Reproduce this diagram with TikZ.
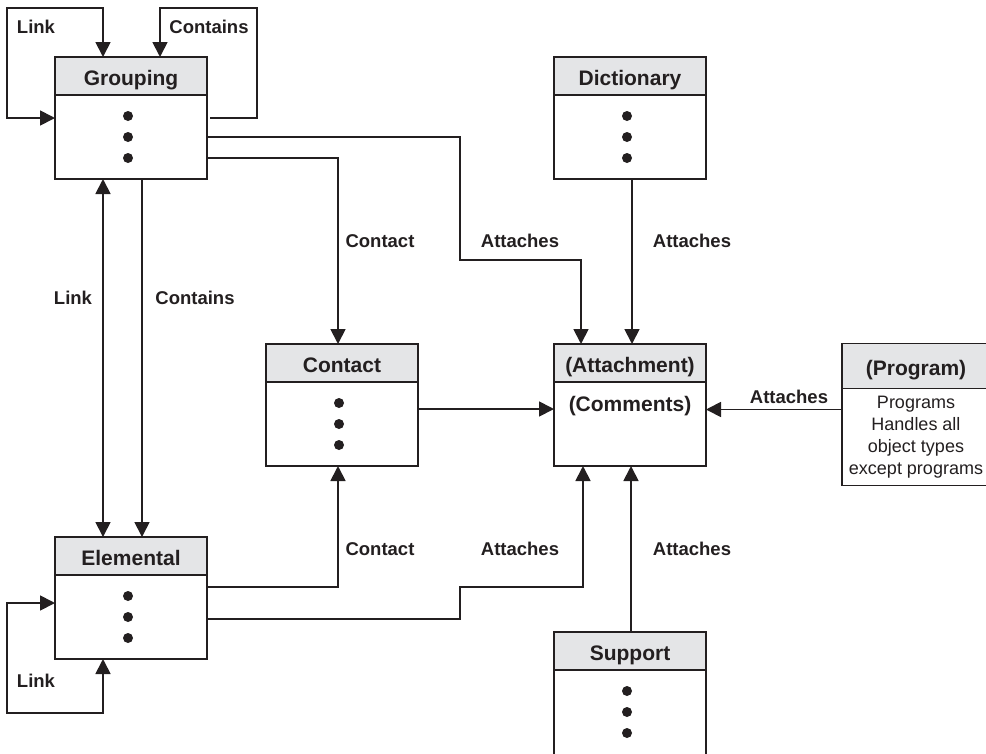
\documentclass[tikz,border=0pt]{standalone}
\usepackage{fontspec}
\setmainfont{Liberation Sans}
\usetikzlibrary{arrows.meta}
\definecolor{ink}{HTML}{231F20}
\definecolor{headgray}{HTML}{E4E5E7}

\begin{document}
\begin{tikzpicture}[x=1pt,y=-1pt,
  head/.style={draw=ink,fill=headgray,line width=1.2pt,outer sep=0pt,inner sep=0pt,
    minimum width=152pt,minimum height=38pt,text height=18pt,text depth=0pt,
    text=ink,font=\fontsize{21}{25}\selectfont\bfseries},
  body/.style={draw=ink,fill=white,line width=1.2pt,outer sep=0pt,inner sep=0pt,
    minimum width=152pt,minimum height=84pt,anchor=north},
  conn/.style={draw=ink,line width=1.8pt,>={Triangle[width=15pt,length=15pt]}},
  lbl/.style={text=ink,font=\fontsize{18.5}{22}\selectfont\bfseries}]
  \useasboundingbox (0,0) rectangle (986,753);

  % class boxes
  \node[head] (grouph) at (131,76) {Grouping};
  \node[body] (groupb) at (grouph.south) {};
  \node[head] (elemh) at (131,556) {Elemental};
  \node[body] (elemb) at (elemh.south) {};
  \node[head] (conth) at (342,363) {Contact};
  \node[body] (contb) at (conth.south) {};
  \node[head] (dicth) at (630,76) {Dictionary};
  \node[body] (dictb) at (dicth.south) {};
  \node[head] (atth) at (630,363) {(Attachment)};
  \node[body] (attb) at (atth.south) {};
  \node[head] (supph) at (630,651) {Support};
  \node[body,minimum height=110pt] (suppb) at (supph.south) {};
  \node[head,minimum width=148pt,minimum height=45pt] (progh) at (916,366) {(Program)};
  \node[body,minimum width=148pt,minimum height=97pt,align=center,text=ink,
    font=\fontsize{18}{22}\selectfont] (progb) at (progh.south)
    {Programs\\Handles all\\object types\\except programs};

  \foreach \b in {groupb,elemb,contb,dictb,suppb}
    \foreach \d in {21,42,63}
      \fill[ink] ([xshift=-3pt,yshift=-\d pt]\b.north) circle (5pt);
  \node[head,draw=none,fill=none] (comm) at ([yshift=-20pt]attb.north) {(Comments)};

  % connectors
  \draw[conn,<->] ([yshift=19pt]groupb.west) -| (7,8) -| ([xshift=-28pt]grouph.north);
  \draw[conn,->] ([xshift=3pt,yshift=19pt]groupb.east) -| (257,8) -| ([xshift=29pt]grouph.north);
  \draw[conn,->] (groupb.east) -| (460,260) -| ([xshift=-49pt]atth.north);
  \draw[conn,->] ([yshift=-21pt]groupb.east) -| ([xshift=-4pt]conth.north);
  \draw[conn,<->] ([xshift=-28pt]groupb.south) -- ([xshift=-28pt]elemh.north);
  \draw[conn,->] ([xshift=11pt]groupb.south) -- ([xshift=11pt]elemh.north);
  \draw[conn,<->] ([yshift=14pt]elemb.west) -| (7,713) -| ([xshift=-28pt]elemb.south);
  \draw[conn,->] ([yshift=30pt]elemb.east) -| ([xshift=-4pt]contb.south);
  \draw[conn,->] ([yshift=-2pt]elemb.east) -| (460,587) -| ([xshift=-47pt]attb.south);
  \draw[conn,->] ([yshift=15pt]contb.east) -- ([yshift=15pt]attb.west);
  \draw[conn,->] ([xshift=2pt]dictb.south) -- ([xshift=2pt]atth.north);
  \draw[conn,->] ([xshift=1pt]supph.north) -- ([xshift=1pt]attb.south);
  \draw[conn,->] ([yshift=27.5pt]progb.west) coordinate (pa) -- (attb.east |- pa);

  % labels
  \node[lbl] at (36,27) {Link};
  \node[lbl] at (209,27) {Contains};
  \node[lbl] at (73,298) {Link};
  \node[lbl] at (195,298) {Contains};
  \node[lbl] at (380,241) {Contact};
  \node[lbl] at (520,241) {Attaches};
  \node[lbl] at (692,241) {Attaches};
  \node[lbl] at (789,397) {Attaches};
  \node[lbl] at (380,549) {Contact};
  \node[lbl] at (520,549) {Attaches};
  \node[lbl] at (692,549) {Attaches};
  \node[lbl] at (36,681) {Link};
\end{tikzpicture}
\end{document}
